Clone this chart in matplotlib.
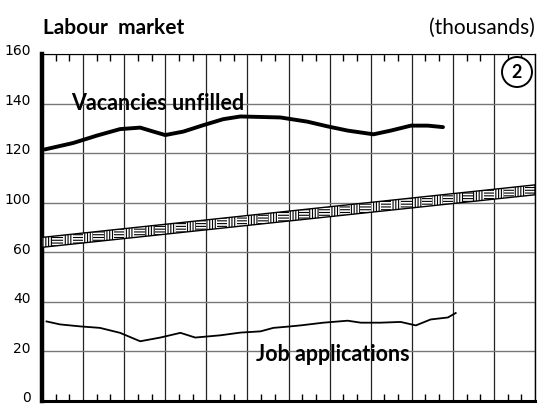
import numpy as np
import matplotlib
matplotlib.use("Agg")
import matplotlib.pyplot as plt
from matplotlib.ticker import FixedLocator, MultipleLocator, NullFormatter
from matplotlib.transforms import ScaledTranslation

# data (x in grid columns, values in thousands)
vac_x = [0.07, 0.76, 1.34, 1.90, 2.39, 2.71, 3.0, 3.44, 3.93, 4.41, 4.83,
         5.80, 6.46, 6.95, 7.44, 8.07, 8.49, 8.98, 9.39, 9.76]
vac_y = [121.5, 124.1, 127.1, 129.7, 130.3, 128.7, 127.3, 128.7, 131.3, 133.7,
         134.8, 134.4, 132.7, 130.8, 129.1, 127.6, 129.1, 131.1, 131.1, 130.5]

job_x = [0.11, 0.44, 0.93, 1.41, 1.90, 2.39, 2.88, 3.37, 3.73, 4.34, 4.83, 5.32,
         5.63, 5.98, 6.29, 6.85, 7.44, 7.76, 8.24, 8.73, 9.10, 9.46, 9.88, 10.07]
job_y = [32.1, 30.9, 30.1, 29.5, 27.5, 24.1, 25.6, 27.5, 25.6, 26.5, 27.6, 28.1,
         29.5, 30.0, 30.5, 31.6, 32.4, 31.6, 31.6, 31.9, 30.5, 32.9, 33.7, 35.5]

band_x = [0, 12]
band_low = [64, 103.2]
band_high = [72, 107.2]

y_ticks = [0, 20, 40, 60, 100, 120, 140, 160]

# broken scale: 60..100 squeezed into one grid step
def fwd(v):
    return np.interp(v, [0, 60, 100, 200], [0, 60, 80, 180])

def inv(p):
    return np.interp(p, [0, 60, 80, 180], [0, 60, 100, 200])


fig = plt.figure(figsize=(5.39, 4.05), dpi=100)
ax = fig.add_axes([42/539, 4/405, 493/539, 347/405])
ax.set_yscale('function', functions=(fwd, inv))
ax.set_xlim(0, 12)
ax.set_ylim(0, 160)

ax.yaxis.set_major_locator(FixedLocator(y_ticks))
ax.yaxis.set_minor_locator(FixedLocator([]))
ax.yaxis.set_minor_formatter(NullFormatter())
ax.set_yticklabels([str(t) for t in y_ticks],
                   family=['Liberation Sans Narrow', 'DejaVu Sans'], fontsize=10)
ax.tick_params(axis='y', length=0, pad=8)
for lab in ax.get_yticklabels():
    lab.set_transform(lab.get_transform() + ScaledTranslation(0, 3/72, fig.dpi_scale_trans))

ax.xaxis.set_major_locator(MultipleLocator(1))
ax.xaxis.set_minor_locator(MultipleLocator(1/3))
ax.set_xticklabels([])
ax.tick_params(axis='x', which='major', length=0)
ax.tick_params(axis='x', which='minor', direction='in', length=5, width=1,
               top=True, bottom=True)

ax.grid(axis='x', color='#222222', lw=0.9)
ax.grid(axis='y', color='#777777', lw=1.0)

ax.spines['left'].set_linewidth(3.2)
ax.spines['bottom'].set_linewidth(2.2)
ax.spines['top'].set_linewidth(0.8)
ax.spines['right'].set_linewidth(1.0)

# hatched band
band = ax.fill(band_x + band_x[::-1], band_low + band_high[::-1],
               facecolor='white', edgecolor='black', lw=1.0, zorder=3)[0]
plt.rcParams['hatch.linewidth'] = 0.8
edges = np.arange(0, 12, 1/4)
for i, x0 in enumerate(edges):
    span = ax.axvspan(x0, x0 + 1/4, facecolor='none', edgecolor='black', lw=0,
                      hatch='||||||' if i % 2 == 0 else '------', zorder=3.5)
    span.set_clip_path(band)

ax.plot(vac_x, vac_y, color='black', lw=2.8, solid_capstyle='round', zorder=4)
ax.plot(job_x, job_y, color='black', lw=1.3, zorder=4)

ax.text(0.71, 137.6, 'Vacancies unfilled', family='Lato', weight='bold',
        fontsize=15.5, va='baseline', zorder=5)
ax.text(5.2, 16, 'Job applications', family='Lato', weight='bold',
        fontsize=15.5, va='baseline', zorder=5)

fig.text(43/539, 1 - 34/405, 'Labour  market', family='Lato', weight='bold',
         fontsize=15, va='baseline')
fig.text(535/539, 1 - 34/405, '(thousands)', family='Lato',
         fontsize=15, va='baseline', ha='right')
fig.text(517/539, 1 - 72/405, '2', family='Lato', weight='bold', fontsize=13,
         ha='center', va='center',
         bbox=dict(boxstyle='circle,pad=0.36', fc='white', ec='black', lw=1.4))

fig.savefig('out.png', dpi=100)
